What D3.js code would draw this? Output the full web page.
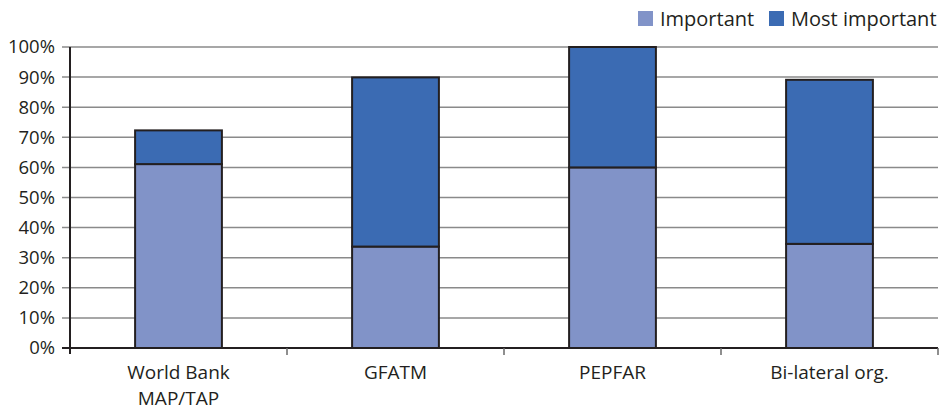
<!DOCTYPE html>
<html><head><meta charset="utf-8">
<script src="https://cdn.jsdelivr.net/npm/d3@7"></script>
<style>body{margin:0;background:#fff}svg{display:block}text{font-family:"Open Sans","Noto Sans",sans-serif;fill:#231f20}</style>
</head><body><svg id="c" width="943" height="411"></svg>
<script>
const categories = [["World Bank","MAP/TAP"],["GFATM"],["PEPFAR"],["Bi-lateral org."]];
const important = [61.1, 33.7, 60.0, 34.6];
const mostImportant = [11.2, 56.2, 40.0, 54.5];
const seriesNames = ["Important","Most important"];
const colors = ["#8193c8","#3b6bb3"];
const yTicks = [0,10,20,30,40,50,60,70,80,90,100];

const svg = d3.select("#c");
const m = {l:70, r:5, t:47, b:63};
const W = 943, H = 411;
const x = d3.scaleBand().domain(d3.range(categories.length)).range([m.l, W-m.r]).paddingInner(0.6).paddingOuter(0.3);
const xb = d3.scaleLinear().domain([0, categories.length]).range([m.l, W-m.r]);
const y = d3.scaleLinear().domain([0,100]).range([H-m.b, m.t]);

// gridlines
svg.append("g").selectAll("line").data(yTicks.filter(d=>d>0)).join("line")
  .attr("x1", m.l-8).attr("x2", W-m.r).attr("y1", d=>y(d)).attr("y2", d=>y(d))
  .attr("stroke","#8a8a8a").attr("stroke-width",1.5);

// y labels
svg.append("g").selectAll("text").data(yTicks).join("text")
  .attr("x", 55).attr("y", d=>y(d)).attr("dy","0.35em").attr("text-anchor","end")
  .attr("font-size",18.5).text(d=>d+"%");

// bars
const stack = d3.stack().keys([0,1]).value((d,k)=> k===0 ? important[d] : mostImportant[d]);
const layers = stack(d3.range(categories.length));
svg.append("g").selectAll("g").data(layers).join("g")
  .attr("fill",(d,i)=>colors[i])
  .selectAll("rect").data(d=>d).join("rect")
  .attr("x",(d,i)=>x(i)).attr("width",x.bandwidth())
  .attr("y",d=>y(d[1])).attr("height",d=>y(d[0])-y(d[1]))
  .attr("stroke","#231f20").attr("stroke-width",2);

// axes
svg.append("line").attr("x1",m.l).attr("x2",m.l).attr("y1",y(100)).attr("y2",y(0)+6).attr("stroke","#231f20").attr("stroke-width",2);
svg.append("line").attr("x1",m.l-8).attr("x2",W-m.r).attr("y1",y(0)).attr("y2",y(0)).attr("stroke","#231f20").attr("stroke-width",2);
svg.append("g").selectAll("line").data(d3.range(1,categories.length+1)).join("line")
  .attr("x1",d=>xb(d)).attr("x2",d=>xb(d)).attr("y1",y(0)).attr("y2",y(0)+7)
  .attr("stroke","#6a6a6a").attr("stroke-width",1.5);

// x labels (one text per line)
categories.forEach((lines,i)=>{
  svg.append("g").selectAll("text").data(lines).join("text")
    .attr("x", x(i)+x.bandwidth()/2).attr("y",(t,j)=>379+j*26)
    .attr("text-anchor","middle").attr("font-size",19).text(t=>t);
});

// legend
const lg = svg.append("g");
const lx = [638, 769];
seriesNames.forEach((s,i)=>{
  lg.append("rect").attr("x",lx[i]).attr("y",11).attr("width",15).attr("height",15).attr("fill",colors[i]);
  lg.append("text").attr("x",lx[i]+22).attr("y",26).attr("font-size",20).text(s);
});
</script></body></html>
